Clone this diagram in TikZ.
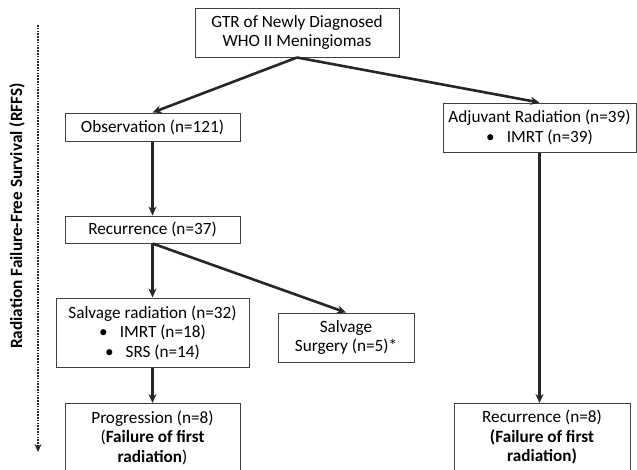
\documentclass[tikz,border=0pt]{standalone}
\usepackage{fontspec}
\setmainfont{Carlito}
\usetikzlibrary{arrows.meta}

\tikzset{
  box/.style={draw=black!75, line width=1pt, fill=white, align=center,
    inner sep=0pt, font=\fontsize{17.2}{19.5}\selectfont},
  arr/.style={-{Stealth[length=9pt, width=8pt]}, line width=2.6pt, black!85}
}
\newcommand{\bul}{\textbullet\hspace{12pt}}

\begin{document}
\begin{tikzpicture}[x=1pt, y=-1pt]

  \useasboundingbox (0,0) rectangle (637,469);

  % === Boxes ===
  \node[box, minimum width=204pt, minimum height=49pt] (gtr) at (297,32.5)
    {GTR of Newly Diagnosed\\WHO II Meningiomas};
  \node[box, minimum width=175pt, minimum height=28pt] (obs) at (152.5,127)
    {Observation (n=121)};
  \node[box, minimum width=193pt, minimum height=49pt] (adj) at (539.5,127.5)
    {Adjuvant Radiation (n=39)\\\bul IMRT (n=39)};
  \node[box, minimum width=175pt, minimum height=27pt] (rec) at (152.5,229.5)
    {Recurrence (n=37)};
  \node[box, minimum width=193pt, minimum height=69pt] (salvrad) at (152.5,332.5)
    {Salvage radiation (n=32)\\\bul IMRT (n=18)\\\bul SRS (n=14)};
  \node[box, minimum width=136pt, minimum height=49pt] (salvsurg) at (346,337.5)
    {Salvage\\Surgery (n=5)*};
  \node[box, minimum width=175pt, minimum height=68pt, anchor=north] (prog) at (152.5,403)
    {Progression (n=8)\\(\textbf{Failure of first}\\\textbf{radiation})};
  \node[box, minimum width=176pt, minimum height=68pt, anchor=north] (rec8) at (542,403)
    {Recurrence (n=8)\\\textbf{(Failure of first}\\\textbf{radiation)}};

  % === Connectors ===
  \draw[arr] (gtr.south) -- (obs.north);
  \draw[arr] (gtr.south) -- (adj.north);
  \draw[arr] (obs.south) -- (rec.north);
  \draw[arr] (rec.south) -- (salvrad.north);
  \draw[arr] (rec.south) -- (salvsurg.north);
  \draw[arr] (salvrad.south) -- (prog.north);
  \draw[arr] (adj.south) -- (adj.south |- rec8.north);

  % === RFFS axis ===
  \coordinate (rffstop) at (38,25);
  \coordinate (rffsbot) at (38,452);
  \draw[line width=2.8pt, black!85, dash pattern=on 1.6pt off 1.2pt, -{Stealth[length=8pt, width=7pt]}]
    (rffstop) -- (rffsbot);
  \node[rotate=90, font=\fontsize{17.2}{19.5}\selectfont\bfseries] (rffs) at (17,216)
    {Radiation Failure-Free Survival (RFFS)};

\end{tikzpicture}
\end{document}
